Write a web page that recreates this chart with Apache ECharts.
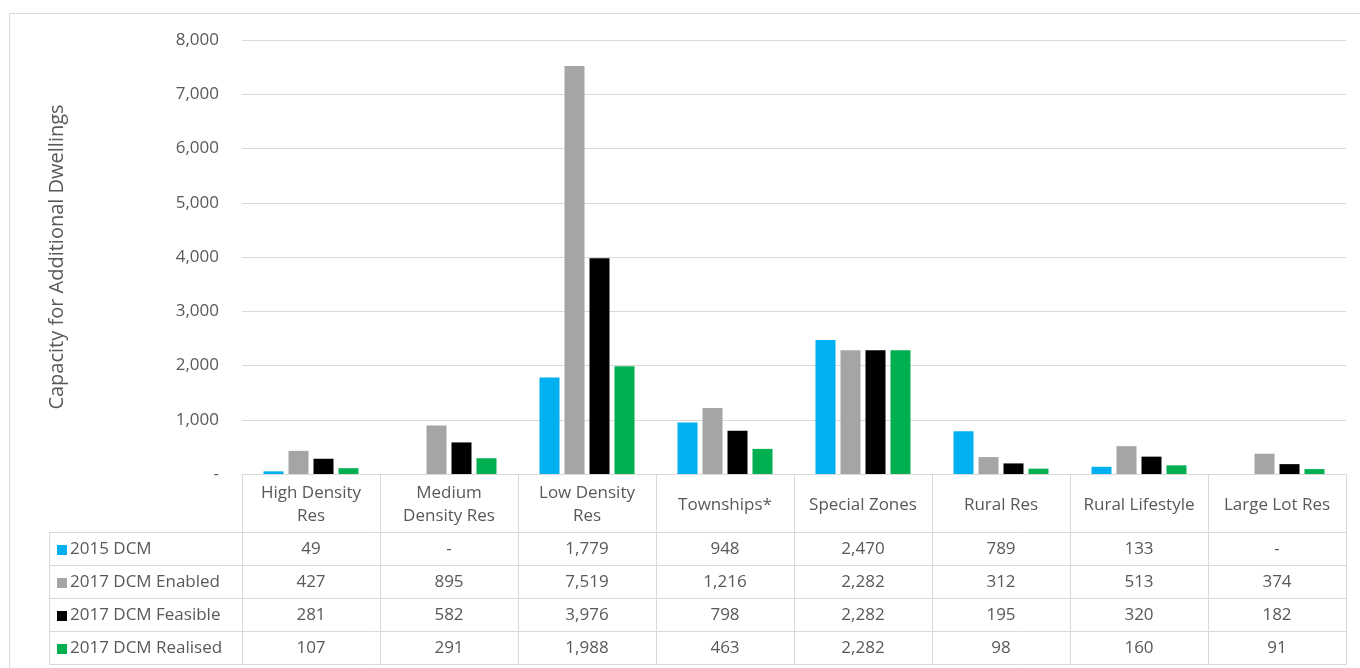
<!DOCTYPE html>
<html>
<head>
<meta charset="utf-8">
<script src="https://cdn.jsdelivr.net/npm/echarts@6/dist/echarts.min.js"></script>
<style>
  html, body { margin: 0; padding: 0; background: #fff; }
  #chart { width: 1360px; height: 668px; }
</style>
</head>
<body>
<div id="chart"></div>
<script>
// Zone categories (header row of the data table)
const categories = ['High Density\nRes', 'Medium\nDensity Res', 'Low Density\nRes', 'Townships*',
  'Special Zones', 'Rural Res', 'Rural Lifestyle', 'Large Lot Res'];

// Series names and colours
const seriesNames = ['2015 DCM', '2017 DCM Enabled', '2017 DCM Feasible', '2017 DCM Realised'];
const seriesColors = ['#00B0F0', '#A5A5A5', '#000000', '#00B050'];

// Capacity values per series (null = no figure, shown as "-")
const dcm2015 = [49, null, 1779, 948, 2470, 789, 133, null];
const dcm2017Enabled = [427, 895, 7519, 1216, 2282, 312, 513, 374];
const dcm2017Feasible = [281, 582, 3976, 798, 2282, 195, 320, 182];
const dcm2017Realised = [107, 291, 1988, 463, 2282, 98, 160, 91];

// Value axis ticks
const yTicks = [0, 1000, 2000, 3000, 4000, 5000, 6000, 7000, 8000];

const seriesData = [dcm2015, dcm2017Enabled, dcm2017Feasible, dcm2017Realised];

const FONT = '"Open Sans", sans-serif';
const TEXT = '#595959';
const LINE = '#D9D9D9';
const FS = 17;
const HEADER_H = 58;
const ROW_H = 33;

const fmt = v => (v === null || v === 0) ? '-' : v.toLocaleString('en-US');

const chart = echarts.init(document.getElementById('chart'), null, { renderer: 'canvas' });

chart.setOption({
  animation: false,
  backgroundColor: '#fff',
  textStyle: { fontFamily: FONT },
  grid: { left: 242, right: 14, top: 40, bottom: 194 },
  xAxis: {
    type: 'category',
    data: categories,
    axisTick: { show: false },
    axisLine: { show: true, lineStyle: { color: LINE, width: 1 } },
    axisLabel: {
      interval: 0,
      margin: HEADER_H / 2 + 2,
      color: TEXT,
      fontSize: FS,
      lineHeight: 23,
      fontFamily: FONT,
      verticalAlign: 'middle'
    }
  },
  yAxis: {
    type: 'value',
    min: yTicks[0],
    max: yTicks[yTicks.length - 1],
    interval: 1000,
    name: 'Capacity for Additional Dwellings',
    nameLocation: 'middle',
    nameGap: 175,
    nameTextStyle: { color: TEXT, fontSize: 20, fontFamily: FONT },
    axisLine: { show: false },
    axisTick: { show: false },
    axisLabel: {
      color: TEXT,
      fontSize: FS,
      margin: 23,
      fontFamily: FONT,
      formatter: v => v === 0 ? '-' : v.toLocaleString('en-US')
    },
    splitLine: { lineStyle: { color: LINE, width: 1 } }
  },
  series: seriesNames.map((name, i) => ({
    name,
    type: 'bar',
    data: seriesData[i],
    barWidth: 20,
    barGap: '25%',
    itemStyle: { color: seriesColors[i] }
  }))
});

// Data table below the plot, laid out from the axis scales
function drawTable() {
  const x0 = chart.convertToPixel({ xAxisIndex: 0 }, 0);
  const x1 = chart.convertToPixel({ xAxisIndex: 0 }, 1);
  const band = x1 - x0;
  const left = x0 - band / 2;
  const right = left + band * categories.length;
  const top = chart.convertToPixel({ yAxisIndex: 0 }, 0);
  const rowsTop = top + HEADER_H;
  const bottom = rowsTop + ROW_H * seriesNames.length;
  const legendLeft = 49;

  const els = [];
  const line = (ax, ay, bx, by) => els.push({
    type: 'line', silent: true,
    shape: { x1: Math.round(ax) + 0.5, y1: Math.round(ay) + 0.5, x2: Math.round(bx) + 0.5, y2: Math.round(by) + 0.5 },
    style: { stroke: LINE, lineWidth: 1 }
  });

  // outer frame of the chart area
  els.push({ type: 'rect', silent: true, shape: { x: 9.5, y: 13.5, width: 1400, height: 700 },
    style: { fill: null, stroke: LINE, lineWidth: 1 } });

  // column separators
  for (let c = 0; c <= categories.length; c++) {
    const x = left + band * c;
    line(x, top, x, bottom);
  }
  // row separators
  for (let r = 0; r <= seriesNames.length; r++) {
    const y = rowsTop + ROW_H * r;
    line(legendLeft, y, right, y);
  }
  line(legendLeft, rowsTop, legendLeft, bottom);

  // rows: legend key + values
  seriesNames.forEach((name, r) => {
    const cy = rowsTop + ROW_H * r + ROW_H / 2 + 1;
    els.push({ type: 'rect', silent: true,
      shape: { x: legendLeft + 8, y: Math.round(cy - 5), width: 10, height: 10 },
      style: { fill: seriesColors[r] } });
    els.push({ type: 'text', silent: true, x: legendLeft + 21, y: cy,
      style: { text: name, fill: TEXT, font: FS + 'px ' + FONT, align: 'left', verticalAlign: 'middle' } });
    seriesData[r].forEach((v, c) => {
      els.push({ type: 'text', silent: true, x: left + band * c + band / 2, y: cy,
        style: { text: fmt(v), fill: TEXT, font: FS + 'px ' + FONT, align: 'center', verticalAlign: 'middle' } });
    });
  });

  chart.setOption({ graphic: { elements: els } });
}
drawTable();
</script>
</body>
</html>
